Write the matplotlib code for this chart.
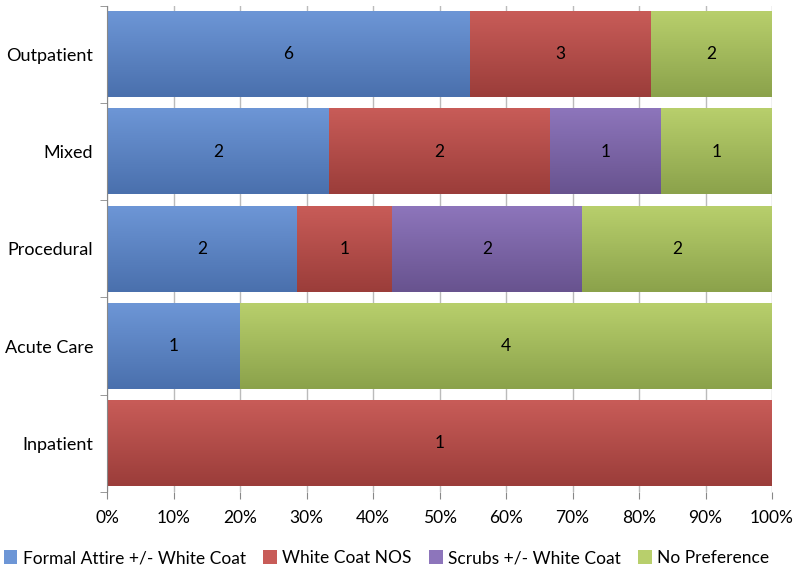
import numpy as np
import matplotlib.pyplot as plt
from matplotlib.colors import LinearSegmentedColormap

plt.rcParams['font.family'] = ['Lato', 'DejaVu Sans']

categories = ['Outpatient', 'Mixed', 'Procedural', 'Acute Care', 'Inpatient']
series = ['Formal Attire +/- White Coat', 'White Coat NOS',
          'Scrubs +/- White Coat', 'No Preference']
formal = [6, 2, 2, 1, 0]
white_coat = [3, 2, 1, 0, 1]
scrubs = [0, 1, 2, 0, 0]
no_pref = [2, 1, 2, 4, 0]

# (top colour, bottom colour) to mimic the Excel gradient
colors = [('#6d96d6', '#4a70ad'),
          ('#c85c58', '#9b3d3a'),
          ('#8d75bb', '#68538f'),
          ('#b8cf6c', '#8ba24b')]

counts = np.array([formal, white_coat, scrubs, no_pref], dtype=float)
totals = counts.sum(axis=0)
shares = counts / totals * 100

fig = plt.figure(figsize=(8, 5.7), dpi=100)
ax = fig.add_axes([0.134, 0.137, 0.831, 0.853])

y = np.arange(len(categories))[::-1]
h = 0.88
left = np.zeros(len(categories))
grad = np.linspace(1, 0, 64).reshape(-1, 1)  # row 0 = bottom with origin lower
for k, name in enumerate(series):
    top, bot = colors[k]
    cmap = LinearSegmentedColormap.from_list(name, [top, bot])
    ax.barh(y, shares[k], left=left, height=h, color=top,
            label=name, zorder=2)
    for c, yy, l, s in zip(counts[k], y, left, shares[k]):
        if s <= 0:
            continue
        ax.imshow(grad, cmap=cmap, aspect='auto', zorder=2.5, origin='lower',
                  extent=(l, l + s, yy - h / 2, yy + h / 2),
                  interpolation='bicubic')
        ax.text(l + s / 2, yy, f'{int(c)}', ha='center', va='center',
                fontsize=12.5, color='black', zorder=4)
    left += shares[k]

ax.set_xlim(0, 100)
ax.set_ylim(-0.5, len(categories) - 0.5)
ax.set_xticks(np.arange(0, 101, 10))
ax.set_xticklabels([f'{v}%' for v in range(0, 101, 10)], fontsize=12.5)
ax.set_yticks(y)
ax.set_yticklabels(categories, fontsize=13)
ax.set_yticks(np.arange(-0.5, len(categories), 1), minor=True)
ax.tick_params(axis='y', which='major', length=0, pad=10)
ax.tick_params(axis='y', which='minor', length=5, color='#888888')
ax.tick_params(axis='x', length=5, color='#888888', pad=8)
ax.grid(axis='x', color='#bbbbbb', linewidth=1, zorder=0)
ax.set_axisbelow(True)
for sp in ['top', 'right', 'bottom']:
    ax.spines[sp].set_visible(False)
ax.spines['left'].set_color('#888888')

ax.legend(loc='center', bbox_to_anchor=(0.483, 0.021),
          bbox_transform=fig.transFigure, ncol=4,
          frameon=False, fontsize=12.5, handlelength=0.8, handleheight=0.8,
          handletextpad=0.3, columnspacing=1.0)

fig.savefig('out.png', dpi=100)
